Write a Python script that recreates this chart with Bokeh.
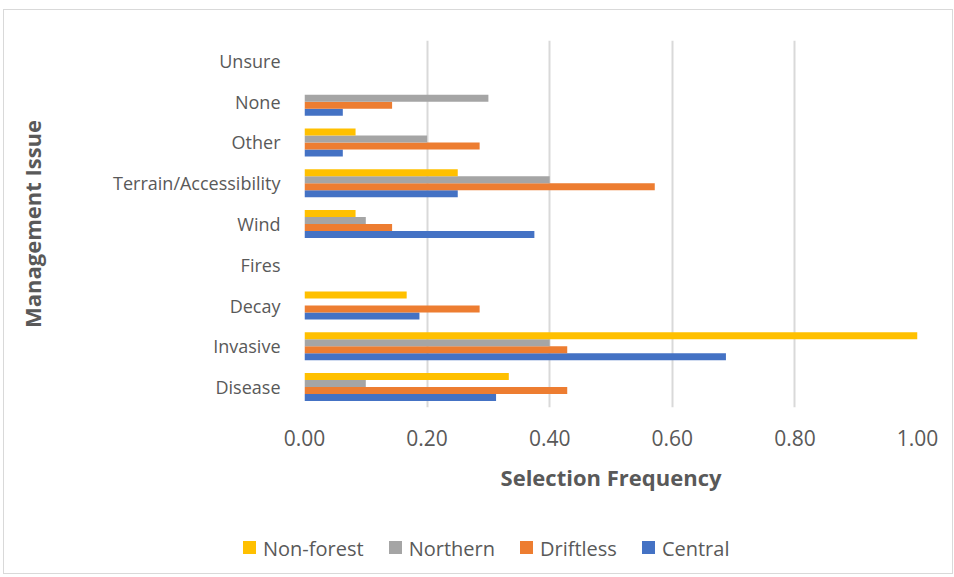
from bokeh.plotting import figure
from bokeh.layouts import column
from bokeh.models import FactorRange, Range1d, FixedTicker, PrintfTickFormatter, ColumnDataSource, Div
from bokeh.transform import dodge
from bokeh.embed import file_html
from bokeh.resources import INLINE

cats = ["Disease", "Invasive", "Decay", "Fires", "Wind", "Terrain/Accessibility", "Other", "None", "Unsure"]
central = [0.3125, 0.6875, 0.1875, 0, 0.375, 0.25, 0.0625, 0.0625, 0]
driftless = [0.4286, 0.4286, 0.2857, 0, 0.1429, 0.5714, 0.2857, 0.1429, 0]
northern = [0.1, 0.4, 0, 0, 0.1, 0.4, 0.2, 0.3, 0]
nonforest = [0.3333, 1.0, 0.1667, 0, 0.0833, 0.25, 0.0833, 0, 0]
x_ticks = [0, 0.2, 0.4, 0.6, 0.8, 1.0]

series = [
    ("Central", "central", "#4472C4", -0.2574),
    ("Driftless", "driftless", "#ED7D31", -0.0858),
    ("Northern", "northern", "#A5A5A5", 0.0858),
    ("Non-forest", "nonforest", "#FFC000", 0.2574),
]
legend_order = ["Non-forest", "Northern", "Driftless", "Central"]

src = ColumnDataSource(dict(cat=cats, central=central, driftless=driftless,
                            northern=northern, nonforest=nonforest))

FONT = "Open Sans"
TXT = "#595959"

p = figure(width=948, height=491, output_backend="svg", toolbar_location=None,
           y_range=FactorRange(factors=cats, range_padding=0),
           x_range=Range1d(0, 1),
           min_border_left=300, min_border_right=35, min_border_top=30, min_border_bottom=94)
p.outline_line_color = None
p.background_fill_color = "white"
p.border_fill_color = "white"

for name, col, color, off in series:
    p.hbar(y=dodge("cat", off, range=p.y_range), right=col, left=0, height=0.1716,
           source=src, fill_color=color, line_color=None)

p.xaxis.ticker = FixedTicker(ticks=x_ticks)
p.xaxis.formatter = PrintfTickFormatter(format="%.2f")
for ax in (p.xaxis[0], p.yaxis[0]):
    ax.axis_line_color = None
    ax.major_tick_line_color = None
    ax.minor_tick_line_color = None
    ax.major_label_text_font = FONT
    ax.major_label_text_color = TXT
    ax.axis_label_text_font = FONT
    ax.axis_label_text_font_style = "bold"
    ax.axis_label_text_color = TXT

p.xaxis.major_label_text_font_size = "21px"
p.yaxis.major_label_text_font_size = "18px"
p.xaxis.axis_label_text_font_size = "22px"
p.yaxis.axis_label_text_font_size = "22px"

p.xaxis.axis_label = "Selection Frequency"
p.yaxis.axis_label = "Management Issue"
p.xaxis.major_label_standoff = 16
p.xaxis.axis_label_standoff = 13
p.yaxis.major_label_standoff = 18
p.yaxis.axis_label_standoff = 63

p.xgrid.grid_line_color = "#d9d9d9"
p.xgrid.grid_line_width = 2
p.xgrid.ticker = FixedTicker(ticks=x_ticks)
p.ygrid.grid_line_color = None

# legend strip (HTML), built from the series names and colours
color_of = {name: color for name, col, color, off in series}
parts = []
for name in legend_order:
    parts.append(
        f'<span style="display:inline-block;width:13px;height:13px;background:{color_of[name]};'
        f'margin-right:7px;vertical-align:middle;position:relative;top:-1px"></span>'
        f'<span style="margin-right:25px;vertical-align:middle">{name}</span>'
    )
html = (f'<div style="font-family:\'Open Sans\';font-size:20px;color:{TXT};line-height:26px;'
        f'padding-left:239px;padding-top:33px;white-space:nowrap">' + "".join(parts) + '</div>')
leg = Div(text=html, width=948, height=72, margin=0)

layout = column(p, leg, spacing=0)
layout.styles = {"border": "1px solid #d9d9d9", "margin-left": "3px", "margin-top": "9px"}

open("out.html", "w").write(file_html(layout, INLINE))
